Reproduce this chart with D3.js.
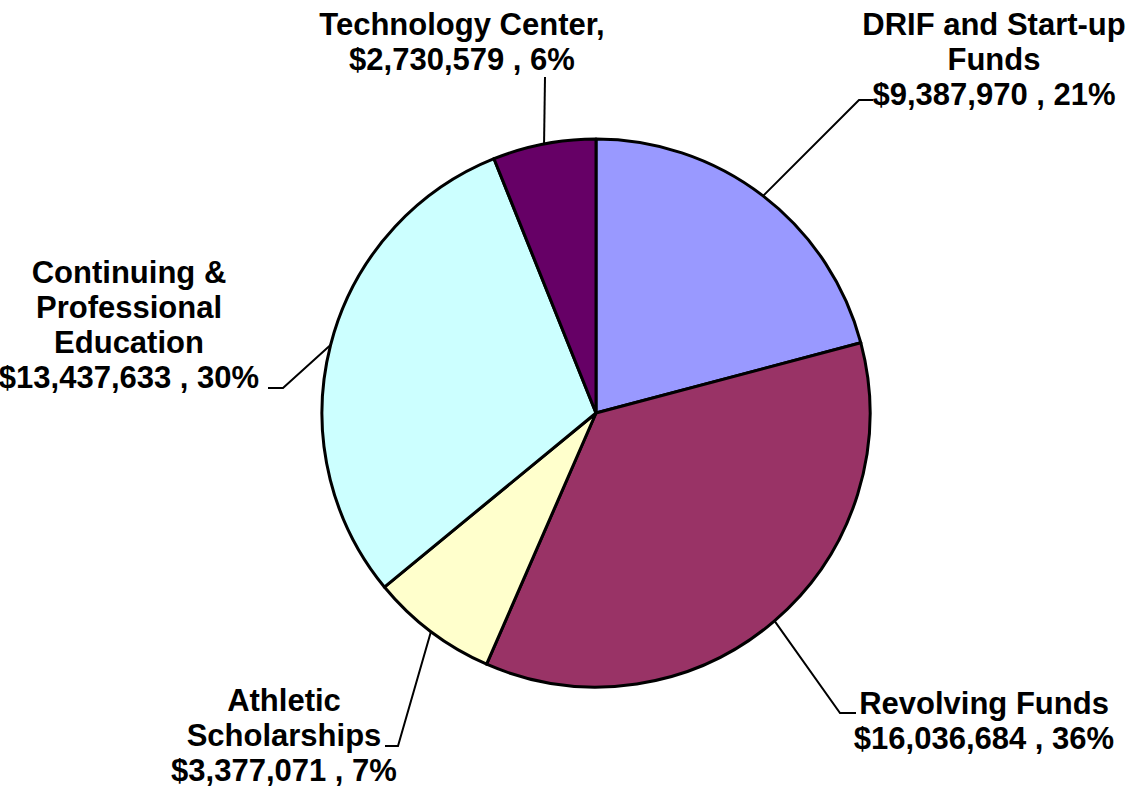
<!DOCTYPE html>
<html>
<head>
<meta charset="utf-8">
<script src="https://cdn.jsdelivr.net/npm/d3@7"></script>
<style>
  body { margin: 0; background: #fff; }
  svg { display: block; }
  text { font-family: "Liberation Sans", Arial, sans-serif; font-weight: bold; font-size: 31px; fill: #000; }
</style>
</head>
<body>
<svg id="chart" width="1132" height="792"></svg>
<script>
// chart data
let categories = ["DRIF and Start-up Funds", "Revolving Funds", "Athletic Scholarships",
    "Continuing & Professional Education", "Technology Center,"];
let amounts = [9387970, 16036684, 3377071, 13437633, 2730579];
let percents = [21, 36, 7, 30, 6];
let colors = ["#9999FF", "#993366", "#FFFFCC", "#CCFFFF", "#660066"];
// how each label is broken into lines (name part only)
let nameLines = [["DRIF and Start-up", "Funds"], ["Revolving Funds"], ["Athletic", "Scholarships"],
    ["Continuing &", "Professional", "Education"], ["Technology Center,"]];

// label layout: text centre x, first baseline y, leader elbow point
let labelLayout = [
    {x: 994, y: 35, elbow: [859, 100], end: [873, 100]},
    {x: 984, y: 714, elbow: [840, 713], end: [856, 713]},
    {x: 284, y: 711, elbow: [398, 746], end: [385, 746]},
    {x: 129, y: 283, elbow: [283, 388], end: [268, 388]},
    {x: 462, y: 35, elbow: [545, 77], end: [545, 77]}
];

let cx = 596, cy = 413, radius = 274, lineHeight = 35;

let svg = d3.select("#chart");
let money = d3.format("$,");

let pie = d3.pie().sort(null).value((d) => d);
let arcs = pie(amounts);
let arc = d3.arc().innerRadius(0).outerRadius(radius);

let g = svg.append("g").attr("transform", `translate(${cx},${cy})`);

g.selectAll("path")
    .data(arcs)
    .enter().append("path")
    .attr("d", arc)
    .style("fill", (d, i) => colors[i])
    .style("stroke", "#000")
    .style("stroke-width", 3)
    .style("stroke-linejoin", "round");

// leader lines from slice arc midpoint to label
svg.append("g")
    .selectAll("polyline")
    .data(arcs)
    .enter().append("polyline")
    .attr("points", function (d, i) {
        let a = (d.startAngle + d.endAngle) / 2;
        let px = cx + radius * Math.sin(a);
        let py = cy - radius * Math.cos(a);
        let L = labelLayout[i];
        return [[px, py], L.elbow, L.end].map((p) => p.join(",")).join(" ");
    })
    .style("fill", "none")
    .style("stroke", "#000")
    .style("stroke-width", 2);

let labels = svg.append("g")
    .selectAll("text")
    .data(arcs)
    .enter().append("text")
    .attr("text-anchor", "middle")
    .attr("x", (d, i) => labelLayout[i].x)
    .attr("y", (d, i) => labelLayout[i].y);

labels.each(function (d, i) {
    let lines = nameLines[i].concat([money(d.data) + " , " + percents[i] + "%"]);
    d3.select(this).selectAll("tspan")
        .data(lines)
        .enter().append("tspan")
        .attr("x", labelLayout[i].x)
        .attr("dy", (t, k) => k === 0 ? 0 : lineHeight)
        .text((t) => t);
});
</script>
</body>
</html>
